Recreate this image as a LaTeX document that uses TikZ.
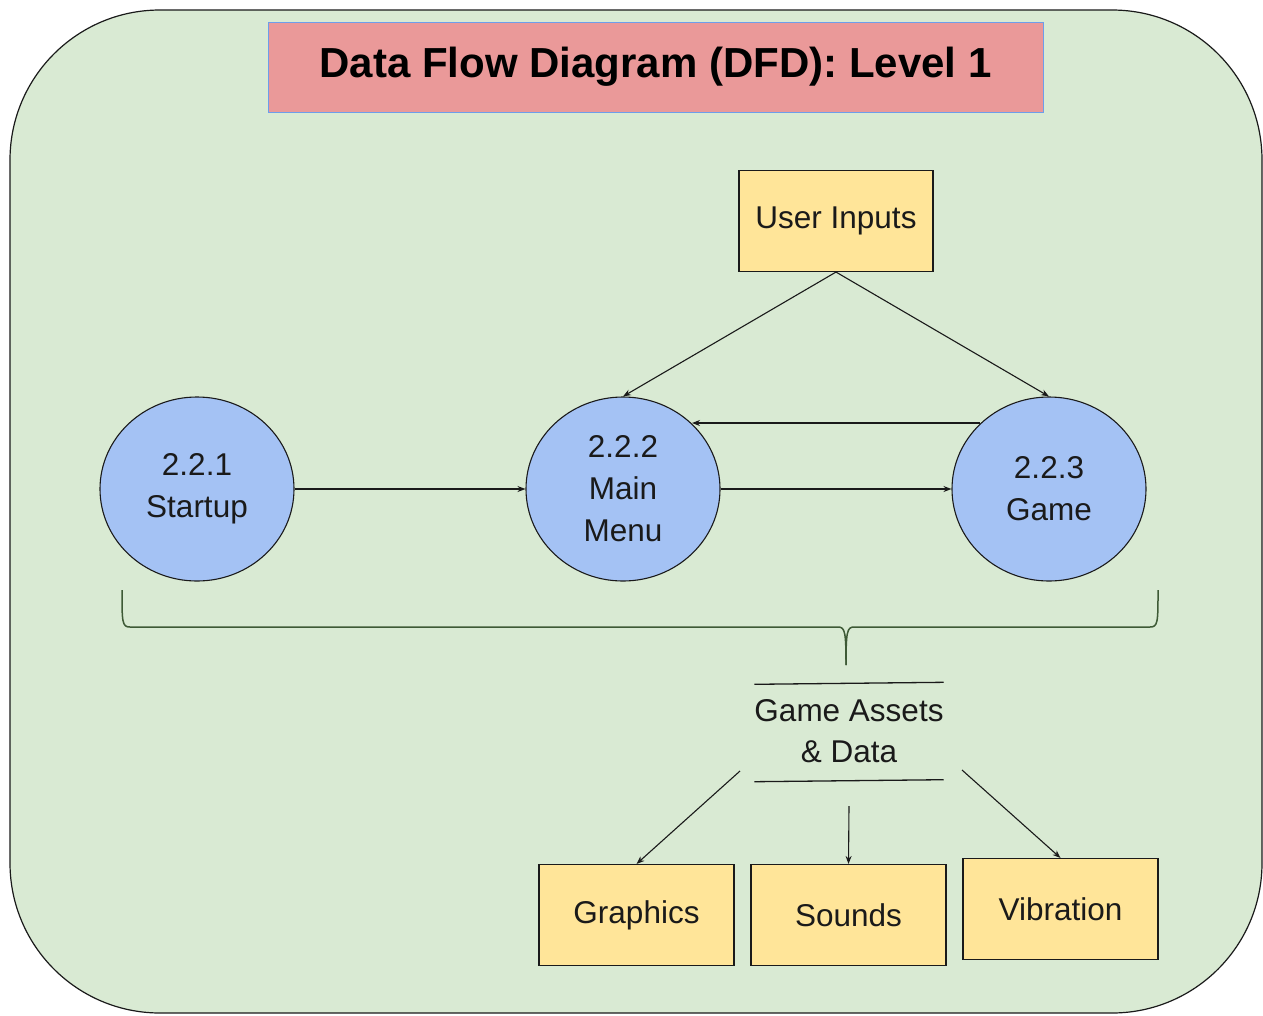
\documentclass[tikz,border=0pt]{standalone}
\usepackage{fontspec}
\setmainfont{Liberation Sans}
\usetikzlibrary{arrows.meta,shapes.geometric}
\definecolor{bggreen}{HTML}{D9EAD3}
\definecolor{titlepink}{HTML}{EA9999}
\definecolor{titleblue}{HTML}{6D9EEB}
\definecolor{boxyellow}{HTML}{FFE599}
\definecolor{procblue}{HTML}{A4C2F4}
\definecolor{bracegreen}{HTML}{3E5A36}
\definecolor{ink}{HTML}{1A1A1A}
\tikzset{
  proc/.style={ellipse,draw=ink,line width=1.1pt,fill=procblue,minimum width=194pt,minimum height=184pt,inner sep=0pt,align=center,font=\fontsize{31.5}{42}\selectfont,text=ink},
  entity/.style={rectangle,draw=ink,line width=1.1pt,fill=boxyellow,minimum width=195pt,minimum height=101pt,inner sep=0pt,align=center,font=\fontsize{31.5}{36}\selectfont,text=ink},
  flow/.style={draw=ink,line width=1.1pt,-{Stealth[length=8pt,width=6pt]}},
}
\begin{document}
\begin{tikzpicture}[x=1pt,y=-1pt]
\useasboundingbox (0,0) rectangle (1263,1015);
% background
\draw[fill=bggreen,draw=ink,line width=1.2pt,rounded corners=150pt] (10,10) rectangle (1262,1013);
% title
\node[rectangle,fill=titlepink,draw=titleblue,line width=0.8pt,minimum width=775pt,minimum height=90pt,inner sep=0pt,font=\fontsize{42}{46}\selectfont\bfseries,text=black] (title) at (655.5,67) {Data Flow Diagram (DFD): Level 1};
% entities
\node[entity,minimum width=194pt] (user) at (836,221) {User Inputs};
\node[entity] (gfx) at (636.5,915) {Graphics};
\node[entity] (snd) at (848.5,915) {Sounds};
\node[entity] (vib) at (1060.5,909) {Vibration};
% processes
\node[proc] (p1) at (197,489) {2.2.1\\Startup};
\node[proc] (p2) at (623,489) {2.2.2\\Main\\Menu};
\node[proc] (p3) at (1049,489) {2.2.3\\Game};
% flows
\draw[flow] (p1.east) -- (p2.west);
\draw[flow] (p2.east) -- (p3.west);
\coordinate (gback) at (980,423);
\coordinate (mback) at (692,423);
\draw[flow] (gback) -- (mback);
\draw[flow] (user.south) -- (p2.north);
\draw[flow] (user.south) -- (p3.north);
% brace
\coordinate (bl) at (122,590);
\coordinate (br) at (1158,590);
\coordinate (btip) at (846,665);
\draw[bracegreen,line width=1.5pt]
  (bl) .. controls (122,622) and (122,627) .. (130,627) -- (838,627)
  .. controls (845,627) and (846,632) .. (btip);
\draw[bracegreen,line width=1.5pt]
  (br) .. controls (1158,622) and (1158,627) .. (1150,627) -- (854,627)
  .. controls (847,627) and (846,632) .. (btip);
% data store
\node[minimum width=182pt,minimum height=97pt,inner sep=0pt,align=center,font=\fontsize{31.5}{41}\selectfont,text=ink] (store) at (849,731) {Game Assets\\\& Data};
\draw[ink,line width=1.3pt] (store.north west) ++(0,2) -- (store.north east);
\draw[ink,line width=1.3pt] (store.south west) ++(0,2) -- (store.south east);
\coordinate (s1) at (740,771);
\coordinate (s2) at (849,806);
\coordinate (s3) at (962,770);
\draw[flow] (s1) -- (gfx.north);
\draw[flow] (s2) -- (snd.north);
\draw[flow] (s3) -- (vib.north);
\end{tikzpicture}
\end{document}
